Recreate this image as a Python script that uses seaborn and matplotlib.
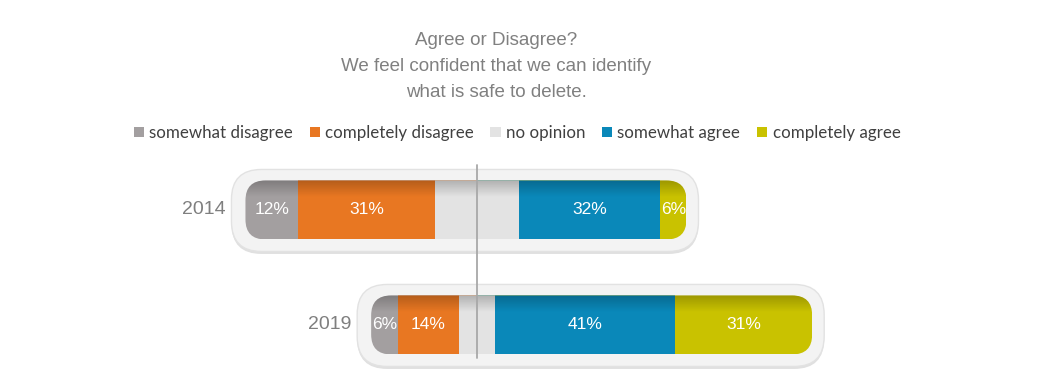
import numpy as np
import pandas as pd
import matplotlib
matplotlib.use("Agg")
import matplotlib.pyplot as plt
import seaborn as sns
from matplotlib.patches import FancyBboxPatch, Patch

years = ["2014", "2019"]
somewhat_disagree = [12, 6]
completely_disagree = [31, 14]
no_opinion = [19, 8]
somewhat_agree = [32, 41]
completely_agree = [6, 31]

labels = ["somewhat disagree", "completely disagree", "no opinion",
          "somewhat agree", "completely agree"]
colors = ["#a39fa0", "#e87722", "#e3e3e3", "#0a88b9", "#c9c200"]

sns.set_theme(style="white")
plt.rcParams["font.family"] = ["Liberation Sans", "DejaVu Sans"]

W, H = 1059, 389
fig = plt.figure(figsize=(W / 100, H / 100), dpi=100)
ax = fig.add_axes([0, 0, 1, 1])

xlim = (-108.16, 131.97)
ylim = (1.557, -1.826)
sx = W / (xlim[1] - xlim[0])   # px per percent
sy = H / (ylim[0] - ylim[1])   # px per row
bar_w = 59 / sy

sd = np.array(somewhat_disagree, float)
cd = np.array(completely_disagree, float)
no = np.array(no_opinion, float)
sa = np.array(somewhat_agree, float)
ca = np.array(completely_agree, float)
half = no / 2
left = -(sd + cd + half)
right = half + sa + ca


def pill(x0, x1, yc, h_top, h_bot, r_px, **kw):
    return FancyBboxPatch((x0, yc - h_top), x1 - x0, h_top + h_bot,
                          boxstyle=f"round,pad=0,rounding_size={r_px / sx}",
                          mutation_aspect=sx / sy, transform=ax.transData, **kw)


# stacked from the middle of "no opinion", longest bar drawn first
layers = [
    (left, colors[0]),
    (-(cd + half), colors[1]),
    (-half, colors[2]),
    (right, colors[4]),
    (half + sa, colors[3]),
    (half, colors[2]),
]

clips = [pill(left[i], right[i], i, bar_w / 2, bar_w / 2, 20) for i in range(len(years))]

for vals, c in layers:
    df = pd.DataFrame({"year": years, "value": vals})
    n0 = len(ax.patches)
    sns.barplot(data=df, x="value", y="year", order=years, color=c,
                saturation=1, width=bar_w, errorbar=None, linewidth=0, ax=ax)
    for p in ax.patches[n0:]:
        row = int(round(p.get_y() + p.get_height() / 2))
        p.set_zorder(2)
        p.set_clip_path(clips[row])

# frames + shading
shade = np.zeros((60, 1, 4))
shade[:, 0, 3] = np.clip(0.22 * (1 - np.linspace(0, 1, 60) / 0.28), 0, None)
for i in range(len(years)):
    pad_l, pad_r, pad_t, pad_b = 14 / sx, 12 / sx, 11 / sy, 12 / sy
    sh = pill(left[i] - pad_l, right[i] + pad_r, i + 2.5 / sy,
              bar_w / 2 + pad_t, bar_w / 2 + pad_b, 30,
              facecolor="#e0e0e0", edgecolor="none", zorder=0.8)
    ax.add_patch(sh)
    fr = pill(left[i] - pad_l, right[i] + pad_r, i,
              bar_w / 2 + pad_t, bar_w / 2 + pad_b, 30,
              facecolor="#f3f3f3", edgecolor="#e2e2e2", linewidth=1, zorder=1)
    ax.add_patch(fr)
    im = ax.imshow(shade, extent=(left[i], right[i], i + bar_w / 2, i - bar_w / 2),
                   aspect="auto", zorder=2.5, interpolation="bilinear")
    im.set_clip_path(clips[i])

    ax.text(left[i] - 20 / sx, i, years[i], ha="right", va="center",
            fontsize=14, color="#7f7f7f")
    centers = [left[i] + sd[i] / 2, left[i] + sd[i] + cd[i] / 2,
               half[i] + sa[i] / 2, half[i] + sa[i] + ca[i] / 2]
    for xc, v in zip(centers, [sd[i], cd[i], sa[i], ca[i]]):
        ax.text(xc, i, f"{int(v)}%", ha="center", va="center",
                fontsize=12.5, color="white", zorder=4)

ax.axvline(0, ymin=1 - 358 / H, ymax=1 - 165 / H, color="#a8a8a8", lw=1.3, zorder=3)

ax.set_xlim(*xlim)
ax.set_ylim(*ylim)
ax.axis("off")

fig.text(496 / W, 1 - 32 / H,
         "Agree or Disagree?\nWe feel confident that we can identify\nwhat is safe to delete.",
         ha="center", va="top", fontsize=13.5, color="#808080", linespacing=1.7)

handles = [Patch(facecolor=c, edgecolor="none") for c in colors]
fig.legend(handles, labels, ncol=5, loc="center", bbox_to_anchor=(517 / W, 1 - 133 / H),
           frameon=False, handlelength=0.6, handleheight=0.6, handletextpad=0.3,
           columnspacing=1.0, prop={"family": "Lato", "size": 12.2}, labelcolor="#404040")

fig.savefig("out.png", dpi=100)
